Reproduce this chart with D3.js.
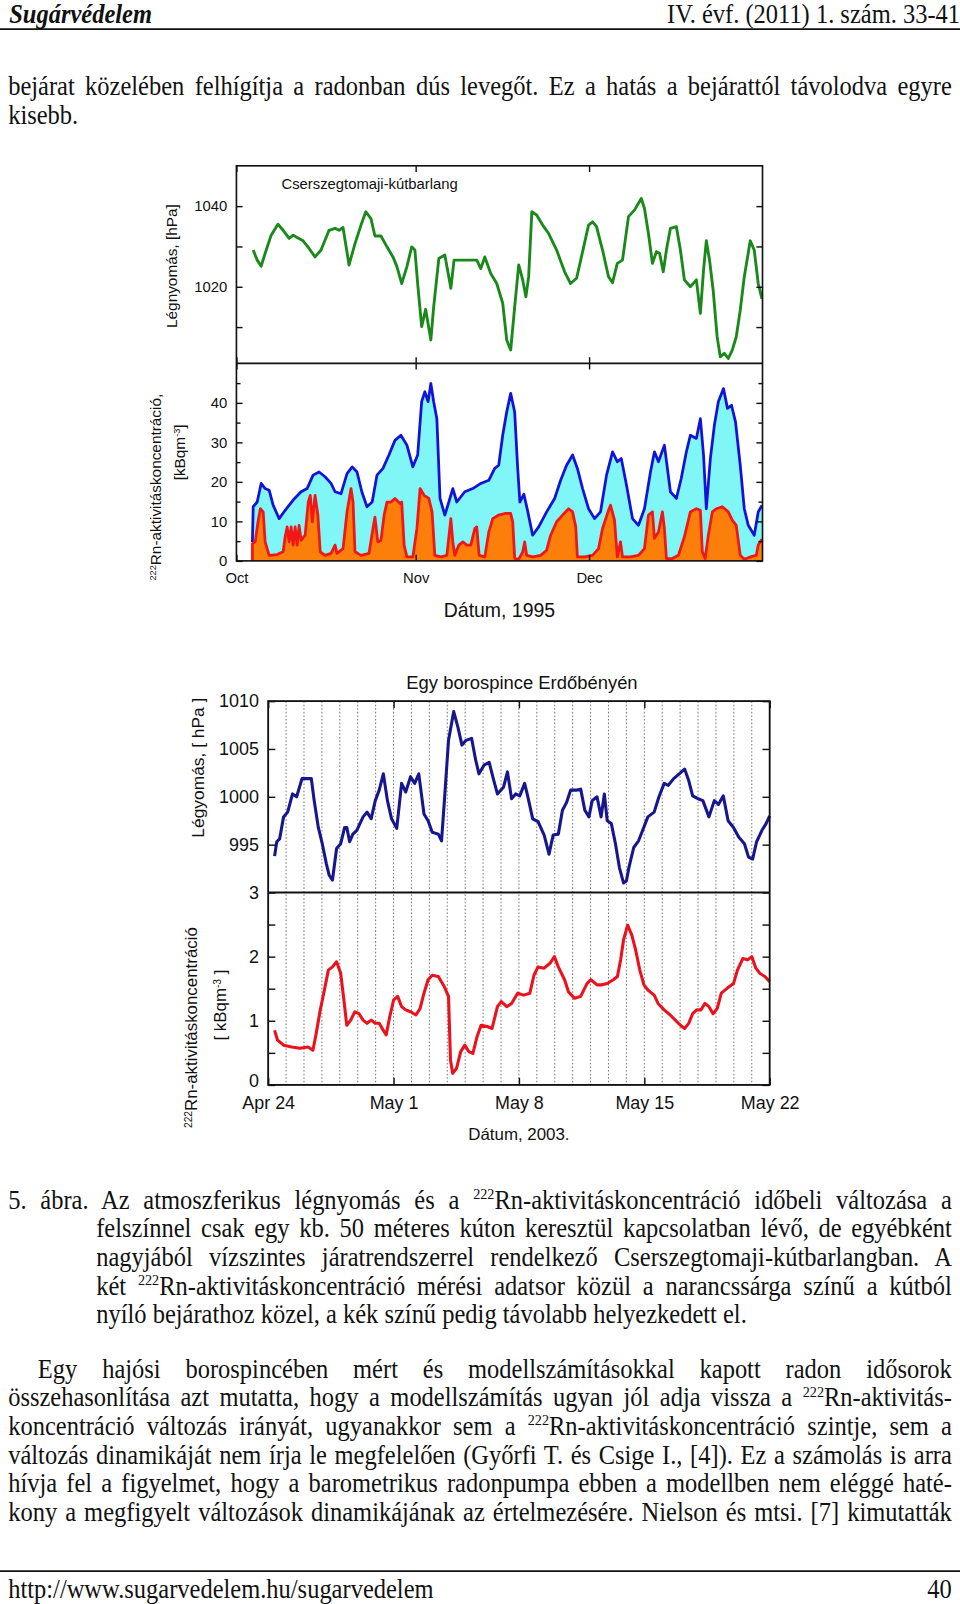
<!DOCTYPE html>
<html>
<head>
<meta charset="utf-8">
<script src="https://cdn.jsdelivr.net/npm/d3@7"></script>
<style>
  body { margin: 0; background: #fff; }
  #page { position: relative; width: 960px; height: 1604px; overflow: hidden; background: #fff; }
  #page svg { position: absolute; left: 0; top: 0; }
  #content { position: absolute; left: 0; top: 0; width: 960px; height: 1604px; transform-origin: 0 0; }
  .serif { position: absolute; font-family: "Liberation Serif", "Times New Roman", serif; font-size: 26px;
           line-height: 28px; color: #111; white-space: nowrap; transform-origin: 0 0; transform: scaleX(0.92); }
  .just { text-align: justify; text-align-last: justify; }
  .right { text-align: right; }
  .sup { font-size: 0.58em; vertical-align: 0.62em; line-height: 0; }
  svg text { font-family: "Liberation Sans", Arial, sans-serif; fill: #111; }
</style>
</head>
<body>
<div id="page"></div>
<script>
// ---- data: Cserszegtomaji-kutbarlang 1995, [days since Oct 1, value]
var cavePressure = [[2.90,1029.1],[3.59,1026.6],[4.28,1025.1],[4.97,1028.3],[6.01,1032.8],[7.18,1035.5],
  [8.08,1034.0],[9.12,1032.0],[9.81,1032.8],[10.50,1032.2],[11.53,1031.4],[12.57,1029.5],[13.60,1027.4],
  [14.64,1029.1],[16.02,1034.0],[17.06,1034.5],[17.75,1034.0],[18.44,1034.7],[19.48,1025.4],[20.51,1030.7],
  [21.55,1035.3],[22.38,1038.6],[23.27,1036.9],[23.96,1032.6],[25.00,1032.6],[26.04,1029.9],[27.07,1027.4],
  [27.76,1025.0],[28.59,1020.8],[29.49,1025.0],[30.32,1029.9],[30.87,1029.1],[31.35,1020.8],[32.04,1010.1],
  [32.73,1014.4],[33.63,1006.8],[34.12,1015.0],[35.01,1027.0],[36.05,1027.9],[37.09,1019.6],[37.64,1026.6],
  [38.47,1026.6],[39.50,1026.6],[41.57,1026.6],[42.27,1024.5],[42.96,1027.4],[43.99,1023.3],[45.03,1020.8],
  [46.06,1015.9],[46.75,1006.8],[47.44,1004.3],[48.13,1015.0],[48.83,1025.4],[49.52,1021.7],[50.07,1017.5],
  [50.55,1022.5],[51.10,1038.6],[51.93,1037.8],[52.97,1035.3],[54.01,1033.2],[55.39,1029.1],[56.77,1023.7],
  [57.80,1020.8],[58.84,1022.1],[59.88,1028.7],[60.91,1035.3],[61.60,1036.1],[62.29,1034.9],[63.33,1029.1],
  [64.36,1022.5],[65.06,1021.0],[65.88,1025.8],[66.78,1026.6],[67.82,1037.4],[68.85,1039.0],[69.54,1040.7],
  [70.03,1041.9],[70.58,1039.4],[71.27,1033.2],[71.96,1025.8],[72.65,1028.7],[73.20,1028.3],[73.83,1023.7],
  [74.38,1029.1],[75.07,1034.5],[76.10,1034.9],[76.80,1029.1],[77.49,1021.7],[78.52,1020.0],[79.56,1021.7],
  [80.25,1013.4],[80.80,1024.1],[81.28,1031.4],[81.84,1026.6],[82.46,1019.2],[83.15,1007.6],[83.70,1002.6],
  [84.39,1003.5],[85.08,1002.2],[85.77,1004.3],[86.46,1007.6],[87.15,1014.2],[87.85,1022.5],[88.88,1031.4],
  [89.57,1029.1],[90.26,1020.8],[90.90,1017.0]];

var caveRadonFar = [[2.76,4.8],[2.90,13.7],[3.59,14.9],[4.28,19.6],[4.97,18.3],[5.66,17.9],[6.35,14.1],
  [7.39,10.7],[8.43,12.8],[9.81,15.4],[11.19,17.5],[12.22,18.3],[13.26,21.7],[14.30,22.5],[15.33,21.3],
  [16.37,19.6],[17.06,17.5],[18.09,17.0],[19.13,22.1],[20.03,23.8],[20.86,22.5],[21.69,17.5],[22.58,13.7],
  [23.48,14.9],[24.31,21.7],[25.35,23.4],[26.38,26.8],[27.42,30.5],[28.45,31.8],[29.49,29.3],[30.52,23.8],
  [31.35,26.8],[32.04,40.3],[32.60,42.8],[33.15,40.3],[33.63,44.9],[34.12,40.3],[34.67,36.0],[35.22,15.8],
  [36.05,11.6],[36.74,14.9],[37.43,18.3],[38.12,14.9],[39.50,17.5],[40.88,18.3],[42.27,19.6],[43.65,20.4],
  [44.68,23.4],[45.37,24.2],[46.06,31.8],[46.75,37.7],[47.44,42.4],[48.13,37.7],[48.62,24.2],[49.03,14.9],
  [49.72,16.9],[50.41,12.4],[51.24,6.5],[52.28,8.6],[53.66,12.4],[55.04,15.8],[56.08,20.4],[57.11,24.2],
  [58.15,26.8],[58.98,23.4],[59.88,18.3],[60.91,13.2],[61.95,10.7],[62.98,12.4],[64.02,21.7],[65.06,27.6],
  [65.88,25.1],[66.57,25.9],[67.47,19.2],[68.51,10.7],[69.54,9.0],[70.58,13.2],[71.62,22.5],[72.31,27.6],
  [73.00,25.1],[74.03,29.3],[75.07,17.5],[76.10,15.8],[76.93,20.8],[77.83,27.6],[78.52,31.8],[79.56,31.0],
  [80.25,36.0],[80.80,26.8],[81.28,13.2],[81.98,25.9],[82.67,34.3],[83.36,40.3],[84.25,43.6],[84.94,38.6],
  [85.64,39.4],[86.33,35.2],[87.15,24.2],[87.85,13.2],[88.54,9.0],[89.57,6.5],[90.26,12.4],[90.90,14.0]];

var caveRadonNear = [[2.76,0.0],[2.77,4.4],[3.25,4.8],[3.73,9.9],[4.14,13.2],[4.63,12.4],[4.97,4.8],[5.66,1.4],
  [7.04,1.6],[8.08,2.3],[8.43,6.1],[8.77,8.6],[9.12,4.8],[9.46,8.6],[9.81,4.0],[10.15,8.6],[10.50,4.0],
  [10.84,9.0],[11.19,5.2],[11.88,6.5],[12.43,14.9],[12.78,16.6],[13.12,9.9],[13.60,16.6],[14.09,11.6],
  [14.50,2.3],[15.33,1.4],[16.37,1.9],[17.06,4.0],[17.40,1.9],[18.44,3.1],[19.13,12.4],[19.82,18.3],
  [20.17,14.9],[20.51,2.3],[21.55,1.4],[22.93,1.9],[23.62,8.2],[23.96,11.1],[24.45,4.8],[25.00,5.2],
  [25.55,11.6],[26.04,14.9],[26.73,14.9],[27.42,15.8],[28.31,14.5],[28.59,14.9],[29.01,4.0],[29.49,1.0],
  [30.52,1.0],[31.22,8.2],[31.77,18.3],[32.46,16.6],[33.29,15.8],[33.84,12.4],[34.32,1.4],[35.36,1.0],
  [36.40,1.4],[37.09,10.7],[37.43,4.8],[37.78,1.4],[38.47,4.0],[39.16,4.8],[39.85,4.0],[40.54,4.0],
  [41.23,8.2],[41.57,8.6],[41.99,1.4],[42.96,1.0],[43.65,7.3],[44.34,10.7],[45.37,11.6],[46.41,12.0],
  [47.44,12.0],[47.79,9.9],[48.14,0.6],[48.83,0.4],[49.52,2.3],[49.86,4.8],[50.21,1.4],[51.24,1.0],
  [52.62,1.4],[53.66,2.7],[54.35,6.5],[55.39,9.9],[56.42,11.6],[57.46,13.2],[58.15,12.4],[58.70,8.6],
  [58.98,1.0],[60.22,1.0],[61.60,1.4],[62.64,3.1],[63.33,8.2],[64.36,12.8],[64.71,14.1],[65.40,10.3],
  [65.88,1.0],[66.44,4.8],[66.78,1.0],[68.16,1.0],[69.54,1.4],[70.58,3.1],[71.27,11.6],[71.96,12.4],
  [72.31,5.7],[73.00,7.3],[73.69,12.4],[74.03,8.2],[74.38,0.6],[75.41,0.6],[76.45,1.4],[77.49,6.1],
  [78.52,12.4],[79.56,13.2],[80.25,12.8],[80.59,2.3],[81.08,0.6],[81.63,6.5],[82.32,12.4],[83.01,13.2],
  [84.05,13.7],[85.08,12.4],[85.77,10.3],[86.46,9.0],[87.15,1.4],[87.85,0.4],[88.88,1.0],[89.92,1.4],
  [90.26,4.0],[90.90,5.5]];

// ---- data: Erdobenye wine cellar 2003, [days since Apr 24, value]
var cellarPressure = [[0.36,993.8],[0.48,995.3],[0.64,995.6],[0.86,997.9],[1.09,998.4],[1.36,1000.3],
  [1.59,1000.0],[1.89,1001.9],[2.11,1001.9],[2.41,1001.9],[2.57,999.6],[2.80,996.8],[3.02,995.1],[3.25,993.0],
  [3.41,991.8],[3.59,991.3],[3.82,994.6],[4.05,995.1],[4.27,996.8],[4.39,996.8],[4.55,995.3],[4.73,996.1],
  [4.95,996.5],[5.30,997.9],[5.52,998.4],[5.75,997.7],[5.98,999.6],[6.20,1000.7],[6.43,1002.4],[6.66,999.6],
  [6.89,997.7],[7.18,996.7],[7.45,1001.4],[7.68,1000.5],[7.95,1002.1],[8.18,1001.4],[8.41,1002.4],[8.70,998.2],
  [8.93,997.5],[9.16,996.3],[9.50,996.1],[9.68,995.4],[9.84,999.6],[10.07,1005.9],[10.36,1008.9],[10.59,1007.3],
  [10.82,1005.4],[11.05,1005.9],[11.36,1006.1],[11.59,1003.8],[11.77,1002.4],[12.05,1003.3],[12.34,1003.6],
  [12.57,1001.9],[12.80,1000.3],[13.14,1001.0],[13.36,1002.6],[13.59,999.8],[13.82,1000.3],[14.05,1000.1],
  [14.32,1001.4],[14.50,1000.0],[14.77,997.7],[15.07,997.4],[15.41,996.0],[15.68,994.0],[15.91,996.0],
  [16.20,996.1],[16.43,998.6],[16.66,999.4],[16.89,1000.7],[17.23,1000.7],[17.45,1000.8],[17.68,998.6],
  [17.91,997.9],[18.09,999.6],[18.36,1000.0],[18.59,997.9],[18.77,1000.3],[18.93,997.5],[19.16,997.2],
  [19.39,995.1],[19.61,992.6],[19.84,991.0],[20.00,991.2],[20.14,992.6],[20.41,994.7],[20.68,995.4],
  [20.91,996.5],[21.20,997.9],[21.55,998.4],[21.82,1000.0],[22.11,1001.4],[22.34,1001.2],[22.64,1001.9],
  [22.95,1002.4],[23.25,1002.9],[23.48,1001.7],[23.70,1000.1],[24.00,999.8],[24.27,999.6],[24.61,997.9],
  [24.91,999.6],[25.14,999.2],[25.41,1000.1],[25.68,997.5],[25.98,996.8],[26.27,995.8],[26.59,995.1],
  [26.82,993.7],[27.05,993.5],[27.27,995.3],[27.57,996.5],[27.80,997.2],[28.00,998.0]];

var cellarRadon = [[0.36,0.85],[0.52,0.70],[0.86,0.62],[1.32,0.59],[1.77,0.57],[2.23,0.59],[2.50,0.54],
  [2.68,0.80],[2.91,1.17],[3.14,1.48],[3.36,1.79],[3.59,1.84],[3.82,1.92],[4.05,1.74],[4.23,1.32],[4.39,0.93],
  [4.61,1.01],[4.84,1.14],[5.07,1.11],[5.30,1.01],[5.52,0.96],[5.75,1.01],[5.98,0.96],[6.20,0.96],[6.43,0.85],
  [6.59,0.78],[6.77,1.04],[7.00,1.32],[7.23,1.38],[7.45,1.22],[7.68,1.17],[7.95,1.14],[8.25,1.09],[8.48,1.19],
  [8.70,1.43],[8.93,1.64],[9.16,1.71],[9.50,1.69],[9.84,1.53],[10.07,1.38],[10.18,0.39],[10.30,0.18],
  [10.52,0.26],[10.75,0.52],[10.98,0.62],[11.20,0.52],[11.43,0.49],[11.66,0.75],[11.89,0.93],[12.23,0.91],
  [12.50,0.88],[12.80,1.22],[13.02,1.30],[13.32,1.22],[13.59,1.27],[13.93,1.43],[14.27,1.40],[14.61,1.43],
  [14.84,1.71],[15.07,1.84],[15.41,1.82],[15.75,1.90],[15.98,2.00],[16.20,1.84],[16.55,1.64],[16.77,1.45],
  [17.11,1.35],[17.45,1.38],[17.80,1.58],[18.02,1.64],[18.36,1.56],[18.64,1.56],[18.93,1.58],[19.27,1.64],
  [19.50,1.69],[19.68,1.95],[19.84,2.26],[20.07,2.49],[20.30,2.34],[20.52,2.10],[20.75,1.79],[20.98,1.56],
  [21.20,1.48],[21.55,1.40],[21.77,1.27],[22.11,1.17],[22.45,1.09],[22.73,1.01],[23.02,0.93],[23.25,0.88],
  [23.48,0.96],[23.70,1.11],[23.93,1.17],[24.16,1.17],[24.39,1.27],[24.61,1.22],[24.84,1.11],[25.07,1.19],
  [25.30,1.43],[25.64,1.51],[25.98,1.58],[26.20,1.79],[26.50,1.97],[26.77,1.95],[27.00,2.00],[27.23,1.82],
  [27.45,1.74],[27.73,1.69],[28.00,1.61]];

// ---- ticks
var cavePressTicks = [1040, 1020], cavePressMinor = [1030, 1010];
var caveRadonTicks = [0, 10, 20, 30, 40], caveRadonMinor = [5, 15, 25, 35, 45];
var cellarPressTicks = [1010, 1005, 1000, 995];
var cellarRadonTicks = [0, 1, 2, 3], cellarRadonMinor = [0.5, 1.5, 2.5];
var cellarDateLabels = ["Apr 24", "May 1", "May 8", "May 15", "May 22"];

// ---- page text
var headerLeft = "Sugárvédelem", headerRight = "IV. évf. (2011) 1. szám. 33-41";
var introLines = ["bejárat közelében felhígítja a radonban dús levegőt. Ez a hatás a bejárattól távolodva egyre",
  "kisebb."];
var captionLines = ["5. ábra. Az atmoszferikus légnyomás és a ^222Rn-aktivitáskoncentráció időbeli változása a",
  "felszínnel csak egy kb. 50 méteres kúton keresztül kapcsolatban lévő, de egyébként",
  "nagyjából vízszintes járatrendszerrel rendelkező Cserszegtomaji-kútbarlangban. A",
  "két ^222Rn-aktivitáskoncentráció mérési adatsor közül a narancssárga színű a kútból",
  "nyíló bejárathoz közel, a kék színű pedig távolabb helyezkedett el."];
var paraLines = ["Egy hajósi borospincében mért és modellszámításokkal kapott radon idősorok",
  "összehasonlítása azt mutatta, hogy a modellszámítás ugyan jól adja vissza a ^222Rn-aktivitás-",
  "koncentráció változás irányát, ugyanakkor sem a ^222Rn-aktivitáskoncentráció szintje, sem a",
  "változás dinamikáját nem írja le megfelelően (Győrfi T. és Csige I., [4]). Ez a számolás is arra",
  "hívja fel a figyelmet, hogy a barometrikus radonpumpa ebben a modellben nem eléggé haté-",
  "kony a megfigyelt változások dinamikájának az értelmezésére. Nielson és mtsi. [7] kimutatták"];
var footerLeft = "http://www.sugarvedelem.hu/sugarvedelem", footerRight = "40";

// whole page laid out on a 938-wide grid, then scaled to 960
var k = 1.0235, sx = 0.92, textRight = 930;

var page = d3.select("#page");
var svgRoot = page.append("svg").attr("width", 960).attr("height", 1604);
var svg = svgRoot.append("g").attr("transform", "scale(" + k + ")");
var content = page.append("div").attr("id", "content").style("transform", "scale(" + k + ")");

// serif text line: justify to textRight, left aligned, or right aligned at x
function textLine(str, x, yc, mode) {
  var html = str.replace(/\^(\d+)/g, '<span class="sup">$1</span>');
  var div = content.append("div")
      .attr("class", "serif" + (mode == "just" ? " just" : mode == "right" ? " right" : ""))
      .style("top", (yc - 14) + "px")
      .html(html);
  if (mode == "just") div.style("left", x + "px").style("width", ((textRight - x) / sx) + "px");
  else if (mode == "right") div.style("left", "0px").style("width", (x / sx) + "px");
  else div.style("left", x + "px");
  return div;
}

// header / footer
textLine(headerLeft, 9, 13, "left").style("font-weight", "bold").style("font-style", "italic")
    .style("top", "2px").style("line-height", "24px");
textLine(headerRight, 938, 13, "right").style("top", "2px").style("line-height", "24px");
svg.append("line").attr("x1", 0).attr("x2", 945).attr("y1", 28.5).attr("y2", 28.5)
    .style("stroke", "#111").style("stroke-width", 1.6);
svg.append("line").attr("x1", 0).attr("x2", 945).attr("y1", 1535).attr("y2", 1535)
    .style("stroke", "#111").style("stroke-width", 1.6);
textLine(footerLeft, 8, 1553, "left");
textLine(footerRight, 930, 1553, "right");

introLines.forEach(function(s, i) { textLine(s, 8, 85 + i*28, i < introLines.length - 1 ? "just" : "left"); });
captionLines.forEach(function(s, i) {
  textLine(s, i == 0 ? 8 : 94, 1173 + i*28, i < captionLines.length - 1 ? "just" : "left");
});
paraLines.forEach(function(s, i) { textLine(s, i == 0 ? 37 : 8, 1338 + i*28, "just"); });

// axis helpers, ticks inward
function styleAxis(a, fs) {
  a.select(".domain").remove();
  a.selectAll("line").style("stroke", "#111").style("stroke-width", 1.4);
  a.selectAll("text").style("font-size", fs + "px").style("font-family", "Liberation Sans, Arial, sans-serif")
    .style("fill", "#111");
}
function yTicks(g, scale, x, values, size, side, labels, pad, fs) {
  var ax = (side == "left" ? d3.axisLeft(scale) : d3.axisRight(scale))
      .tickValues(values).tickSize(-size).tickPadding(pad)
      .tickFormat(labels ? d3.format("d") : "");
  g.append("g").attr("transform", "translate(" + x + ",0)").call(ax)
    .call(function(a) { styleAxis(a, fs); });
}
function xTicks(g, scale, y, values, size, side, labels, pad, fs, fmt) {
  var ax = (side == "bottom" ? d3.axisBottom(scale) : d3.axisTop(scale))
      .tickValues(values).tickSize(-size).tickPadding(pad)
      .tickFormat(labels ? fmt : "");
  g.append("g").attr("transform", "translate(0," + y + ")").call(ax)
    .call(function(a) { styleAxis(a, fs); });
}

// ---------- chart 1: cave, 1995
var cave = {left: 231, right: 745, top: 162, mid: 355, bottom: 548};
var caveStart = Date.UTC(1995, 9, 1);
function caveDate(d) { return new Date(caveStart + d[0]*864e5); }

var xCave = d3.scaleUtc()
    .domain([new Date(caveStart), new Date(Date.UTC(1995, 11, 31))])
    .range([cave.left, cave.right]);
var yCavePress = d3.scaleLinear().domain([1001, 1050]).range([cave.mid, cave.top]);
var yCaveRadon = d3.scaleLinear().domain([0, 50]).range([cave.bottom, cave.mid]);

var g1 = svg.append("g");

var radonArea = d3.area().x(function(d) { return xCave(caveDate(d)); })
    .y0(yCaveRadon(0)).y1(function(d) { return yCaveRadon(d[1]); });
var radonLine = d3.line().x(function(d) { return xCave(caveDate(d)); })
    .y(function(d) { return yCaveRadon(d[1]); });
var pressLine = d3.line().x(function(d) { return xCave(caveDate(d)); })
    .y(function(d) { return yCavePress(d[1]); });

g1.append("path").datum(caveRadonFar).attr("d", radonArea).style("fill", "#80f6f6");
g1.append("path").datum(caveRadonNear).attr("d", radonArea).style("fill", "#fb7f0a");
g1.append("path").datum(caveRadonFar).attr("d", radonLine)
    .style("fill", "none").style("stroke", "#1212d8").style("stroke-width", 2.7).style("stroke-linejoin", "round");
g1.append("path").datum(caveRadonNear).attr("d", radonLine)
    .style("fill", "none").style("stroke", "#f21616").style("stroke-width", 2.7).style("stroke-linejoin", "round");
g1.append("path").datum(cavePressure).attr("d", pressLine)
    .style("fill", "none").style("stroke", "#198a19").style("stroke-width", 2.8).style("stroke-linejoin", "round");

yTicks(g1, yCavePress, cave.left, cavePressTicks, 6, "left", true, 9, 14.5);
yTicks(g1, yCavePress, cave.left, cavePressMinor, 6, "left", false, 9, 14.5);
yTicks(g1, yCavePress, cave.right, cavePressTicks.concat(cavePressMinor), 6, "right", false, 9, 14.5);
yTicks(g1, yCaveRadon, cave.left, caveRadonTicks, 6, "left", true, 9, 14.5);
yTicks(g1, yCaveRadon, cave.left, caveRadonMinor, 4, "left", false, 9, 14.5);
yTicks(g1, yCaveRadon, cave.right, caveRadonTicks, 6, "right", false, 9, 14.5);
yTicks(g1, yCaveRadon, cave.right, caveRadonMinor, 4, "right", false, 9, 14.5);

var caveMonths = d3.utcMonth.range(new Date(caveStart), xCave.domain()[1]);
var monthFmt = d3.utcFormat("%b");
xTicks(g1, xCave, cave.bottom, caveMonths, 6, "bottom", true, 11, 14.5, monthFmt);
xTicks(g1, xCave, cave.mid, caveMonths, 6, "bottom", false, 8, 14.5, monthFmt);
xTicks(g1, xCave, cave.mid, caveMonths, 6, "top", false, 8, 14.5, monthFmt);
xTicks(g1, xCave, cave.top, caveMonths, 6, "top", false, 8, 14.5, monthFmt);

g1.append("rect").attr("x", cave.left).attr("y", cave.top)
    .attr("width", cave.right - cave.left).attr("height", cave.bottom - cave.top)
    .style("fill", "none").style("stroke", "#111").style("stroke-width", 1.6);
g1.append("line").attr("x1", cave.left).attr("x2", cave.right).attr("y1", cave.mid).attr("y2", cave.mid)
    .style("stroke", "#111").style("stroke-width", 1.6);

g1.append("text").attr("x", 275).attr("y", 185).style("font-size", "14.5px").text("Cserszegtomaji-kútbarlang");
g1.append("text").attr("transform", "translate(173,260) rotate(-90)").attr("text-anchor", "middle")
    .style("font-size", "15px").text("Légnyomás, [hPa]");
var rt1 = g1.append("text").attr("transform", "translate(157,476) rotate(-90)").attr("text-anchor", "middle")
    .style("font-size", "15px");
rt1.append("tspan").attr("baseline-shift", "super").style("font-size", "9px").text("222");
rt1.append("tspan").text("Rn-aktivitáskoncentráció,");
var rt2 = g1.append("text").attr("transform", "translate(181,442) rotate(-90)").attr("text-anchor", "middle")
    .style("font-size", "15px");
rt2.append("tspan").text("[kBqm");
rt2.append("tspan").attr("baseline-shift", "super").style("font-size", "9px").text("-3");
rt2.append("tspan").text("]");
g1.append("text").attr("x", 488).attr("y", 603).attr("text-anchor", "middle")
    .style("font-size", "19px").text("Dátum, 1995");

// ---------- chart 2: wine cellar, 2003
var cellar = {left: 262, right: 752, top: 685, mid: 872, bottom: 1060};
var cellarStart = Date.UTC(2003, 3, 24);
function cellarDate(d) { return new Date(cellarStart + d[0]*864e5); }
var parseLabel = d3.utcParse("%b %d %Y");
var cellarTickDates = cellarDateLabels.map(function(s) { return parseLabel(s + " 2003"); });

var xCellar = d3.scaleUtc()
    .domain([new Date(cellarStart), cellarTickDates[cellarTickDates.length - 1]])
    .range([cellar.left, cellar.right]);
var yCellarPress = d3.scaleLinear().domain([990, 1010]).range([cellar.mid, cellar.top]);
var yCellarRadon = d3.scaleLinear().domain([0, 3]).range([cellar.bottom, cellar.mid]);

var g2 = svg.append("g");

// daily dotted grid
var days = d3.utcDay.range(d3.utcDay.offset(xCellar.domain()[0], 1), xCellar.domain()[1]);
g2.selectAll("line.grid").data(days).enter().append("line")
    .attr("class", "grid")
    .attr("x1", function(d) { return xCellar(d); }).attr("x2", function(d) { return xCellar(d); })
    .attr("y1", cellar.top).attr("y2", cellar.bottom)
    .style("stroke", "#777").style("stroke-width", 1).style("stroke-dasharray", "1.5,2");

g2.append("path").datum(cellarPressure)
    .attr("d", d3.line().x(function(d) { return xCellar(cellarDate(d)); })
      .y(function(d) { return yCellarPress(d[1]); }))
    .style("fill", "none").style("stroke", "#16168e").style("stroke-width", 3).style("stroke-linejoin", "round");
g2.append("path").datum(cellarRadon)
    .attr("d", d3.line().x(function(d) { return xCellar(cellarDate(d)); })
      .y(function(d) { return yCellarRadon(d[1]); }))
    .style("fill", "none").style("stroke", "#ea121c").style("stroke-width", 3).style("stroke-linejoin", "round");

yTicks(g2, yCellarPress, cellar.left, cellarPressTicks, 7, "left", true, 9, 17.5);
yTicks(g2, yCellarPress, cellar.right, cellarPressTicks, 7, "right", false, 9, 17.5);
yTicks(g2, yCellarRadon, cellar.left, cellarRadonTicks, 7, "left", true, 9, 17.5);
yTicks(g2, yCellarRadon, cellar.left, cellarRadonMinor, 7, "left", false, 9, 17.5);
yTicks(g2, yCellarRadon, cellar.right, cellarRadonTicks.concat(cellarRadonMinor), 7, "right", false, 9, 17.5);
// lift the "0" clear of the first date label
g2.selectAll("text").filter(function() { return this.textContent === "0"; }).attr("dy", "0.1em");

var dayFmt = d3.utcFormat("%b %-d");
xTicks(g2, xCellar, cellar.bottom, cellarTickDates, 7, "bottom", true, 11, 17.5, dayFmt);
xTicks(g2, xCellar, cellar.top, cellarTickDates, 7, "top", false, 9, 17.5, dayFmt);

g2.append("rect").attr("x", cellar.left).attr("y", cellar.top)
    .attr("width", cellar.right - cellar.left).attr("height", cellar.bottom - cellar.top)
    .style("fill", "none").style("stroke", "#111").style("stroke-width", 1.8);
g2.append("line").attr("x1", cellar.left).attr("x2", cellar.right).attr("y1", cellar.mid).attr("y2", cellar.mid)
    .style("stroke", "#111").style("stroke-width", 1.8);

g2.append("text").attr("x", 510).attr("y", 673).attr("text-anchor", "middle")
    .style("font-size", "18px").text("Egy borospince Erdőbényén");
g2.append("text").attr("transform", "translate(199,750) rotate(-90)").attr("text-anchor", "middle")
    .style("font-size", "17px").text("Légyomás, [ hPa ]");
var rt3 = g2.append("text").attr("transform", "translate(192,1004) rotate(-90)").attr("text-anchor", "middle")
    .style("font-size", "16.5px");
rt3.append("tspan").attr("baseline-shift", "super").style("font-size", "10px").text("222");
rt3.append("tspan").text("Rn-aktivitáskoncentráció");
var rt4 = g2.append("text").attr("transform", "translate(221,982) rotate(-90)").attr("text-anchor", "middle")
    .style("font-size", "16.5px");
rt4.append("tspan").text("[ kBqm");
rt4.append("tspan").attr("baseline-shift", "super").style("font-size", "10px").text("-3");
rt4.append("tspan").text(" ]");
g2.append("text").attr("x", 507).attr("y", 1114).attr("text-anchor", "middle")
    .style("font-size", "16.5px").text("Dátum, 2003.");
</script>
</body>
</html>
